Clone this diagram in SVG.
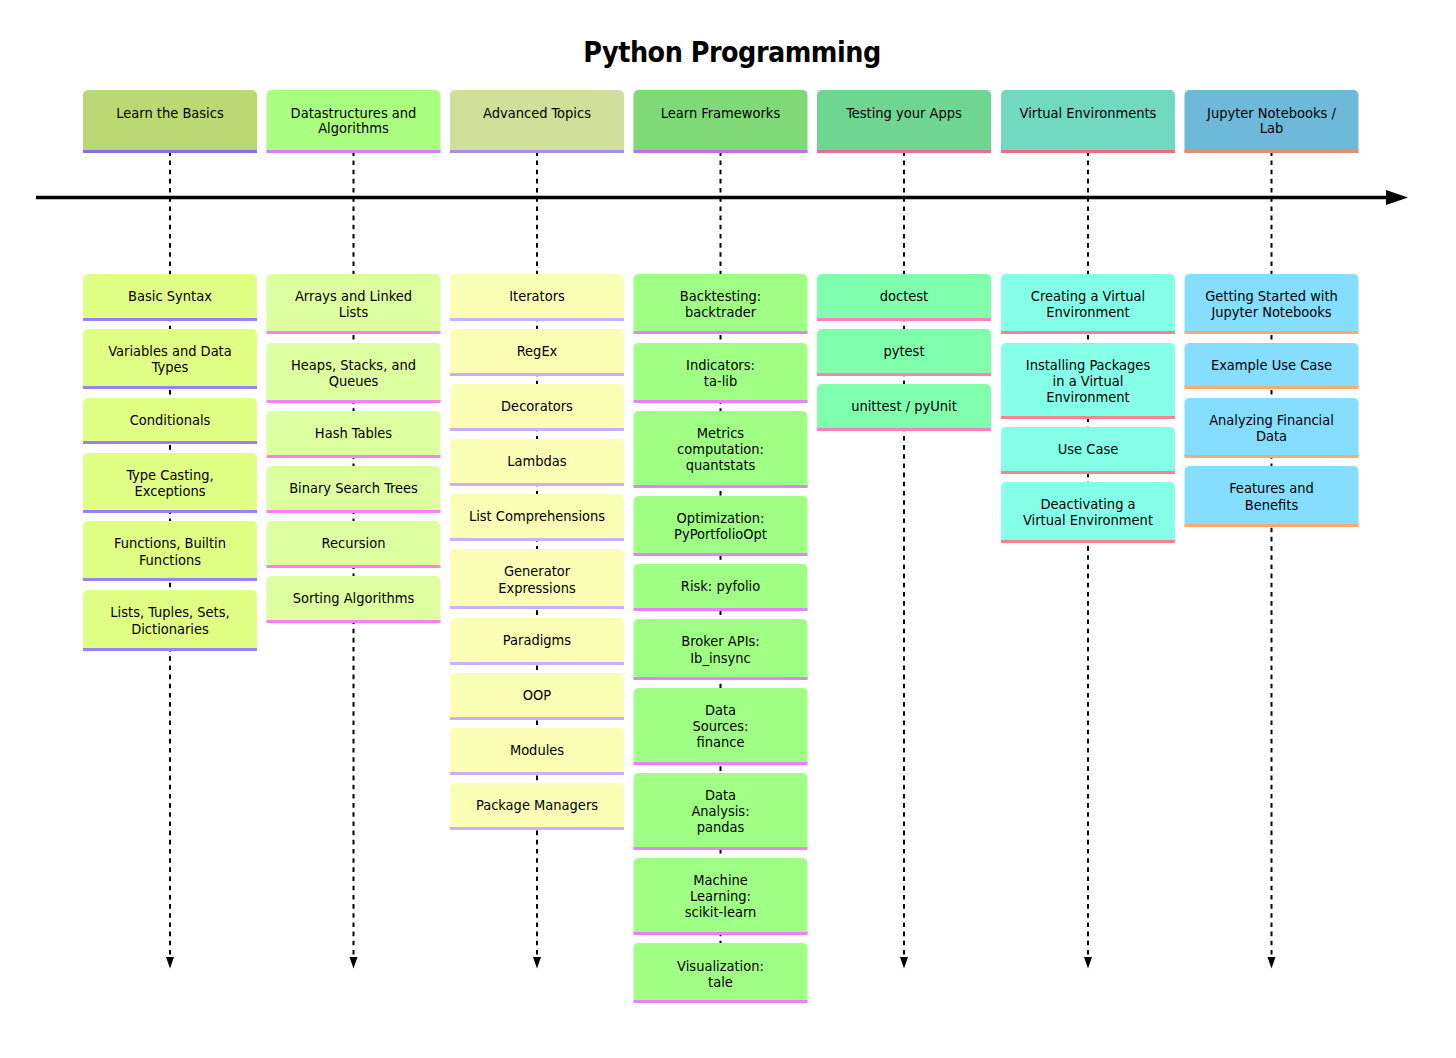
<svg xmlns="http://www.w3.org/2000/svg" width="1456" height="1058" viewBox="0 0 1456 1058">
<defs>
<marker id="axis" markerUnits="userSpaceOnUse" markerWidth="22" markerHeight="15" refX="0" refY="7.500" orient="auto"><path d="M0 0L22 7.500L0 15Z" fill="#000"/></marker>
</defs>
<style>
text{font-family:"DejaVu Sans",sans-serif;font-stretch:condensed;font-size:14.500px;fill:#000;text-anchor:middle}
.title{font-size:28.400px;font-weight:bold;letter-spacing:-0.500px}
.d{stroke:#000;stroke-width:2;stroke-dasharray:4.590 4.590;fill:none}
.b{fill:none;stroke-width:2.800}
</style>
<rect width="1456" height="1058" fill="#fff"/>
<text class="title" x="732" y="62">Python Programming</text>
<g id="connectors">
<path class="d" d="M170 151.300V957"/>
<path class="d" d="M353.500 151.300V957"/>
<path class="d" d="M537 151.300V957"/>
<path class="d" d="M720.500 151.300V957"/>
<path class="d" d="M904 151.300V957"/>
<path class="d" d="M1088 151.300V957"/>
<path class="d" d="M1271.500 151.300V957"/>
<path d="M166 957H174L170 968.500Z M349.500 957H357.500L353.500 968.500Z M533 957H541L537 968.500Z M900 957H908L904 968.500Z M1084 957H1092L1088 968.500Z M1267.500 957H1275.500L1271.500 968.500Z"/>
<path d="M36 197.500H1386" stroke="#000" stroke-width="3.700" fill="none" marker-end="url(#axis)"/>
</g>
<g id="col1-header"><path d="M83 151.500V95a5 5 0 0 1 5-5H252a5 5 0 0 1 5 5V151.500Z" fill="#bad975"/><path class="b" d="M83 151.500H257" stroke="#8b6fe0"/><text x="170" y="117.500">Learn the Basics</text></g>
<g id="col2-header"><path d="M266.500 151.500V95a5 5 0 0 1 5-5H435.500a5 5 0 0 1 5 5V151.500Z" fill="#aaff80"/><path class="b" d="M266.500 151.500H440.500" stroke="#d480f5"/><text x="353.500" y="117.500">Datastructures and</text><text x="353.500" y="133">Algorithms</text></g>
<g id="col3-header"><path d="M450 151.500V95a5 5 0 0 1 5-5H619a5 5 0 0 1 5 5V151.500Z" fill="#d0e09a"/><path class="b" d="M450 151.500H624" stroke="#a890e0"/><text x="537" y="117.500">Advanced Topics</text></g>
<g id="col4-header"><path d="M633.500 151.500V95a5 5 0 0 1 5-5H802.500a5 5 0 0 1 5 5V151.500Z" fill="#80d977"/><path class="b" d="M633.500 151.500H807.500" stroke="#c070e0"/><text x="720.500" y="117.500">Learn Frameworks</text></g>
<g id="col5-header"><path d="M817 151.500V95a5 5 0 0 1 5-5H986a5 5 0 0 1 5 5V151.500Z" fill="#6ed690"/><path class="b" d="M817 151.500H991" stroke="#e070a0"/><text x="904" y="117.500">Testing your Apps</text></g>
<g id="col6-header"><path d="M1001 151.500V95a5 5 0 0 1 5-5H1170a5 5 0 0 1 5 5V151.500Z" fill="#70d9c0"/><path class="b" d="M1001 151.500H1175" stroke="#e07080"/><text x="1088" y="117.500">Virtual Environments</text></g>
<g id="col7-header"><path d="M1184.500 151.500V95a5 5 0 0 1 5-5H1353.500a5 5 0 0 1 5 5V151.500Z" fill="#6eb8d9"/><path class="b" d="M1184.500 151.500H1358.500" stroke="#e09070"/><text x="1271.500" y="117.500">Jupyter Notebooks /</text><text x="1271.500" y="133">Lab</text></g>

<g id="col1-t1"><path d="M83 319.500V279a5 5 0 0 1 5-5H252a5 5 0 0 1 5 5V319.500Z" fill="#e0ff85"/><path class="b" d="M83 319.500H257" stroke="#9a80ff"/><text x="170" y="301">Basic Syntax</text></g>
<g id="col1-t2"><path d="M83 387.500V334a5 5 0 0 1 5-5H252a5 5 0 0 1 5 5V387.500Z" fill="#e0ff85"/><path class="b" d="M83 387.500H257" stroke="#9a80ff"/><text x="170" y="356">Variables and Data</text><text x="170" y="371.500">Types</text></g>
<g id="col1-t3"><path d="M83 442.500V403a5 5 0 0 1 5-5H252a5 5 0 0 1 5 5V442.500Z" fill="#e0ff85"/><path class="b" d="M83 442.500H257" stroke="#9a80ff"/><text x="170" y="425">Conditionals</text></g>
<g id="col1-t4"><path d="M83 511.500V458a5 5 0 0 1 5-5H252a5 5 0 0 1 5 5V511.500Z" fill="#e0ff85"/><path class="b" d="M83 511.500H257" stroke="#9a80ff"/><text x="170" y="480">Type Casting,</text><text x="170" y="495.500">Exceptions</text></g>
<g id="col1-t5"><path d="M83 579.500V526a5 5 0 0 1 5-5H252a5 5 0 0 1 5 5V579.500Z" fill="#e0ff85"/><path class="b" d="M83 579.500H257" stroke="#9a80ff"/><text x="170" y="548">Functions, Builtin</text><text x="170" y="564.500">Functions</text></g>
<g id="col1-t6"><path d="M83 649.500V595a5 5 0 0 1 5-5H252a5 5 0 0 1 5 5V649.500Z" fill="#e0ff85"/><path class="b" d="M83 649.500H257" stroke="#9a80ff"/><text x="170" y="617">Lists, Tuples, Sets,</text><text x="170" y="633.500">Dictionaries</text></g>

<g id="col2-t1"><path d="M266.500 332.500V279a5 5 0 0 1 5-5H435.500a5 5 0 0 1 5 5V332.500Z" fill="#deffa0"/><path class="b" d="M266.500 332.500H440.500" stroke="#ff80f5"/><text x="353.500" y="301">Arrays and Linked</text><text x="353.500" y="316.500">Lists</text></g>
<g id="col2-t2"><path d="M266.500 401.500V348a5 5 0 0 1 5-5H435.500a5 5 0 0 1 5 5V401.500Z" fill="#deffa0"/><path class="b" d="M266.500 401.500H440.500" stroke="#ff80f5"/><text x="353.500" y="370">Heaps, Stacks, and</text><text x="353.500" y="385.500">Queues</text></g>
<g id="col2-t3"><path d="M266.500 456.500V416a5 5 0 0 1 5-5H435.500a5 5 0 0 1 5 5V456.500Z" fill="#deffa0"/><path class="b" d="M266.500 456.500H440.500" stroke="#ff80f5"/><text x="353.500" y="438">Hash Tables</text></g>
<g id="col2-t4"><path d="M266.500 511.500V471a5 5 0 0 1 5-5H435.500a5 5 0 0 1 5 5V511.500Z" fill="#deffa0"/><path class="b" d="M266.500 511.500H440.500" stroke="#ff80f5"/><text x="353.500" y="493">Binary Search Trees</text></g>
<g id="col2-t5"><path d="M266.500 566.500V526a5 5 0 0 1 5-5H435.500a5 5 0 0 1 5 5V566.500Z" fill="#deffa0"/><path class="b" d="M266.500 566.500H440.500" stroke="#ff80f5"/><text x="353.500" y="548">Recursion</text></g>
<g id="col2-t6"><path d="M266.500 621.500V581a5 5 0 0 1 5-5H435.500a5 5 0 0 1 5 5V621.500Z" fill="#deffa0"/><path class="b" d="M266.500 621.500H440.500" stroke="#ff80f5"/><text x="353.500" y="603">Sorting Algorithms</text></g>

<g id="col3-t1"><path d="M450 319.500V279a5 5 0 0 1 5-5H619a5 5 0 0 1 5 5V319.500Z" fill="#faffb5"/><path class="b" d="M450 319.500H624" stroke="#c8b0ff"/><text x="537" y="301">Iterators</text></g>
<g id="col3-t2"><path d="M450 374.500V334a5 5 0 0 1 5-5H619a5 5 0 0 1 5 5V374.500Z" fill="#faffb5"/><path class="b" d="M450 374.500H624" stroke="#c8b0ff"/><text x="537" y="356">RegEx</text></g>
<g id="col3-t3"><path d="M450 429.500V389a5 5 0 0 1 5-5H619a5 5 0 0 1 5 5V429.500Z" fill="#faffb5"/><path class="b" d="M450 429.500H624" stroke="#c8b0ff"/><text x="537" y="411">Decorators</text></g>
<g id="col3-t4"><path d="M450 484.500V444a5 5 0 0 1 5-5H619a5 5 0 0 1 5 5V484.500Z" fill="#faffb5"/><path class="b" d="M450 484.500H624" stroke="#c8b0ff"/><text x="537" y="466">Lambdas</text></g>
<g id="col3-t5"><path d="M450 539.500V499a5 5 0 0 1 5-5H619a5 5 0 0 1 5 5V539.500Z" fill="#faffb5"/><path class="b" d="M450 539.500H624" stroke="#c8b0ff"/><text x="537" y="521">List Comprehensions</text></g>
<g id="col3-t6"><path d="M450 607.500V554a5 5 0 0 1 5-5H619a5 5 0 0 1 5 5V607.500Z" fill="#faffb5"/><path class="b" d="M450 607.500H624" stroke="#c8b0ff"/><text x="537" y="576">Generator</text><text x="537" y="592.500">Expressions</text></g>
<g id="col3-t7"><path d="M450 663.500V623a5 5 0 0 1 5-5H619a5 5 0 0 1 5 5V663.500Z" fill="#faffb5"/><path class="b" d="M450 663.500H624" stroke="#c8b0ff"/><text x="537" y="645">Paradigms</text></g>
<g id="col3-t8"><path d="M450 718.500V678a5 5 0 0 1 5-5H619a5 5 0 0 1 5 5V718.500Z" fill="#faffb5"/><path class="b" d="M450 718.500H624" stroke="#c8b0ff"/><text x="537" y="700">OOP</text></g>
<g id="col3-t9"><path d="M450 773.500V733a5 5 0 0 1 5-5H619a5 5 0 0 1 5 5V773.500Z" fill="#faffb5"/><path class="b" d="M450 773.500H624" stroke="#c8b0ff"/><text x="537" y="755">Modules</text></g>
<g id="col3-t10"><path d="M450 828.500V788a5 5 0 0 1 5-5H619a5 5 0 0 1 5 5V828.500Z" fill="#faffb5"/><path class="b" d="M450 828.500H624" stroke="#c8b0ff"/><text x="537" y="810">Package Managers</text></g>

<g id="col4-t1"><path d="M633.500 332.500V279a5 5 0 0 1 5-5H802.500a5 5 0 0 1 5 5V332.500Z" fill="#a0ff85"/><path class="b" d="M633.500 332.500H807.500" stroke="#ea80ff"/><text x="720.500" y="301">Backtesting:</text><text x="720.500" y="316.500">backtrader</text></g>
<g id="col4-t2"><path d="M633.500 401.500V348a5 5 0 0 1 5-5H802.500a5 5 0 0 1 5 5V401.500Z" fill="#a0ff85"/><path class="b" d="M633.500 401.500H807.500" stroke="#ea80ff"/><text x="720.500" y="370">Indicators:</text><text x="720.500" y="385.500">ta-lib</text></g>
<g id="col4-t3"><path d="M633.500 486.500V416a5 5 0 0 1 5-5H802.500a5 5 0 0 1 5 5V486.500Z" fill="#a0ff85"/><path class="b" d="M633.500 486.500H807.500" stroke="#ea80ff"/><text x="720.500" y="438">Metrics</text><text x="720.500" y="454">computation:</text><text x="720.500" y="470">quantstats</text></g>
<g id="col4-t4"><path d="M633.500 554.500V501a5 5 0 0 1 5-5H802.500a5 5 0 0 1 5 5V554.500Z" fill="#a0ff85"/><path class="b" d="M633.500 554.500H807.500" stroke="#ea80ff"/><text x="720.500" y="523">Optimization:</text><text x="720.500" y="539">PyPortfolioOpt</text></g>
<g id="col4-t5"><path d="M633.500 609.500V569a5 5 0 0 1 5-5H802.500a5 5 0 0 1 5 5V609.500Z" fill="#a0ff85"/><path class="b" d="M633.500 609.500H807.500" stroke="#ea80ff"/><text x="720.500" y="591">Risk: pyfolio</text></g>
<g id="col4-t6"><path d="M633.500 678.500V624a5 5 0 0 1 5-5H802.500a5 5 0 0 1 5 5V678.500Z" fill="#a0ff85"/><path class="b" d="M633.500 678.500H807.500" stroke="#ea80ff"/><text x="720.500" y="646">Broker APIs:</text><text x="720.500" y="663">Ib_insync</text></g>
<g id="col4-t7"><path d="M633.500 763.500V693a5 5 0 0 1 5-5H802.500a5 5 0 0 1 5 5V763.500Z" fill="#a0ff85"/><path class="b" d="M633.500 763.500H807.500" stroke="#ea80ff"/><text x="720.500" y="715">Data</text><text x="720.500" y="731">Sources:</text><text x="720.500" y="747">finance</text></g>
<g id="col4-t8"><path d="M633.500 848.500V778a5 5 0 0 1 5-5H802.500a5 5 0 0 1 5 5V848.500Z" fill="#a0ff85"/><path class="b" d="M633.500 848.500H807.500" stroke="#ea80ff"/><text x="720.500" y="800">Data</text><text x="720.500" y="816">Analysis:</text><text x="720.500" y="832">pandas</text></g>
<g id="col4-t9"><path d="M633.500 933.500V863a5 5 0 0 1 5-5H802.500a5 5 0 0 1 5 5V933.500Z" fill="#a0ff85"/><path class="b" d="M633.500 933.500H807.500" stroke="#ea80ff"/><text x="720.500" y="885">Machine</text><text x="720.500" y="900.500">Learning:</text><text x="720.500" y="917">scikit-learn</text></g>
<g id="col4-t10"><path d="M633.500 1001.500V948a5 5 0 0 1 5-5H802.500a5 5 0 0 1 5 5V1001.500Z" fill="#a0ff85"/><path class="b" d="M633.500 1001.500H807.500" stroke="#ea80ff"/><text x="720.500" y="971">Visualization:</text><text x="720.500" y="987">tale</text></g>

<g id="col5-t1"><path d="M817 319.500V279a5 5 0 0 1 5-5H986a5 5 0 0 1 5 5V319.500Z" fill="#80ffad"/><path class="b" d="M817 319.500H991" stroke="#ff80c0"/><text x="904" y="301">doctest</text></g>
<g id="col5-t2"><path d="M817 374.500V334a5 5 0 0 1 5-5H986a5 5 0 0 1 5 5V374.500Z" fill="#80ffad"/><path class="b" d="M817 374.500H991" stroke="#ff80c0"/><text x="904" y="356">pytest</text></g>
<g id="col5-t3"><path d="M817 429.500V389a5 5 0 0 1 5-5H986a5 5 0 0 1 5 5V429.500Z" fill="#80ffad"/><path class="b" d="M817 429.500H991" stroke="#ff80c0"/><text x="904" y="411">unittest / pyUnit</text></g>

<g id="col6-t1"><path d="M1001 332.500V279a5 5 0 0 1 5-5H1170a5 5 0 0 1 5 5V332.500Z" fill="#85ffe8"/><path class="b" d="M1001 332.500H1175" stroke="#ff8095"/><text x="1088" y="301">Creating a Virtual</text><text x="1088" y="316.500">Environment</text></g>
<g id="col6-t2"><path d="M1001 417.500V348a5 5 0 0 1 5-5H1170a5 5 0 0 1 5 5V417.500Z" fill="#85ffe8"/><path class="b" d="M1001 417.500H1175" stroke="#ff8095"/><text x="1088" y="370">Installing Packages</text><text x="1088" y="385.500">in a Virtual</text><text x="1088" y="402">Environment</text></g>
<g id="col6-t3"><path d="M1001 472.500V432a5 5 0 0 1 5-5H1170a5 5 0 0 1 5 5V472.500Z" fill="#85ffe8"/><path class="b" d="M1001 472.500H1175" stroke="#ff8095"/><text x="1088" y="454">Use Case</text></g>
<g id="col6-t4"><path d="M1001 541.500V487a5 5 0 0 1 5-5H1170a5 5 0 0 1 5 5V541.500Z" fill="#85ffe8"/><path class="b" d="M1001 541.500H1175" stroke="#ff8095"/><text x="1088" y="509">Deactivating a</text><text x="1088" y="525">Virtual Environment</text></g>

<g id="col7-t1"><path d="M1184.500 332.500V279a5 5 0 0 1 5-5H1353.500a5 5 0 0 1 5 5V332.500Z" fill="#85ddff"/><path class="b" d="M1184.500 332.500H1358.500" stroke="#ffa870"/><text x="1271.500" y="301">Getting Started with</text><text x="1271.500" y="316.500">Jupyter Notebooks</text></g>
<g id="col7-t2"><path d="M1184.500 387.500V348a5 5 0 0 1 5-5H1353.500a5 5 0 0 1 5 5V387.500Z" fill="#85ddff"/><path class="b" d="M1184.500 387.500H1358.500" stroke="#ffa870"/><text x="1271.500" y="370">Example Use Case</text></g>
<g id="col7-t3"><path d="M1184.500 456.500V403a5 5 0 0 1 5-5H1353.500a5 5 0 0 1 5 5V456.500Z" fill="#85ddff"/><path class="b" d="M1184.500 456.500H1358.500" stroke="#ffa870"/><text x="1271.500" y="425">Analyzing Financial</text><text x="1271.500" y="441">Data</text></g>
<g id="col7-t4"><path d="M1184.500 525.500V471a5 5 0 0 1 5-5H1353.500a5 5 0 0 1 5 5V525.500Z" fill="#85ddff"/><path class="b" d="M1184.500 525.500H1358.500" stroke="#ffa870"/><text x="1271.500" y="493">Features and</text><text x="1271.500" y="509.500">Benefits</text></g>
</svg>
